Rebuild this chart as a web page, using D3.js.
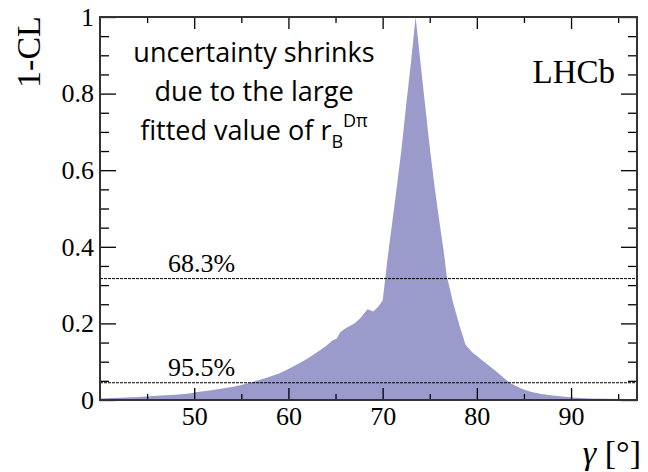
<!DOCTYPE html>
<html>
<head>
<meta charset="utf-8">
<script src="https://cdn.jsdelivr.net/npm/d3@7"></script>
<style>
  html, body { margin: 0; padding: 0; background: #fff; }
  svg { display: block; }
</style>
</head>
<body>
<svg id="chart" width="648" height="472"></svg>
<script>
// ---- data ----
const gamma = [40, 42, 44, 45, 46, 48, 49.5, 50.3, 51, 52, 53, 54, 55, 56, 57, 58, 59, 60, 61, 62, 63, 64,
  64.7, 65.1, 65.5, 66, 66.5, 67, 67.6, 68.4, 69.0, 69.5, 70.0, 70.2, 70.5, 71, 71.5, 72, 72.5, 73, 73.5,
  74, 74.5, 75, 75.5, 76, 76.5, 76.8, 77.5, 78.2, 78.8, 79.5, 80.3, 81, 82.1, 83, 83.5, 84.2, 84.9, 85.8,
  86.7, 88, 89.1, 90.5, 92, 94, 97];
const oneMinusCL = [0.004, 0.006, 0.008, 0.009, 0.011, 0.014, 0.017, 0.021, 0.023, 0.026, 0.030, 0.034, 0.039,
  0.046, 0.053, 0.061, 0.069, 0.081, 0.094, 0.108, 0.124, 0.141,
  0.156, 0.160, 0.177, 0.186, 0.193, 0.200, 0.213, 0.237, 0.231, 0.243, 0.259, 0.300, 0.365, 0.46, 0.555,
  0.655, 0.77, 0.88, 1.0,
  0.885, 0.772, 0.66, 0.56, 0.47, 0.385, 0.325, 0.252, 0.191, 0.144, 0.125, 0.109, 0.095, 0.074, 0.055,
  0.045, 0.036, 0.028, 0.021, 0.016, 0.012, 0.009, 0.006, 0.004, 0.003, 0.002];
const xMajorTicks = [50, 60, 70, 80, 90];
const xMinorTicks = [45, 55, 65, 75, 85, 95];
const yMajorTicks = [0, 0.2, 0.4, 0.6, 0.8, 1];
const yTickLabels = ["0", "0.2", "0.4", "0.6", "0.8", "1"];
const yMinorTicks = [0.05, 0.1, 0.15, 0.25, 0.3, 0.35, 0.45, 0.5, 0.55, 0.65, 0.7, 0.75, 0.85, 0.9, 0.95];
const clLevels = [0.317, 0.045];
const clLabels = ["68.3%", "95.5%"];
const xDomain = [40, 97];
const yDomain = [0, 1];

// ---- layout ----
const L = 100, R = 637, T = 17, B = 400;
const serif = "'Liberation Serif', 'Times New Roman', serif";
const sans = "'Open Sans', Lato, sans-serif";
const fillColor = "#9a9acb";

const svg = d3.select("#chart");
const x = d3.scaleLinear().domain(xDomain).range([L, R]);
const y = d3.scaleLinear().domain(yDomain).range([B, T]);

const data = gamma.map((g, i) => ({ g, v: oneMinusCL[i] }));

// filled area
svg.append("path")
  .datum(data)
  .attr("fill", fillColor)
  .attr("d", d3.area().x(d => x(d.g)).y0(y(0)).y1(d => y(d.v)));

// CL lines
clLevels.forEach((lv, i) => {
  svg.append("line")
    .attr("x1", L).attr("x2", R)
    .attr("y1", y(lv)).attr("y2", y(lv))
    .attr("stroke", "#000").attr("stroke-width", 1)
    .attr("stroke-dasharray", "3,1");
  svg.append("text")
    .attr("x", 168).attr("y", y(lv) - 7)
    .attr("font-family", serif).attr("font-size", 26)
    .attr("fill", "#000")
    .text(clLabels[i]);
});

// axes
function styleAxis(g) {
  g.select(".domain").remove();
  g.selectAll(".tick line").attr("stroke", "#000").attr("stroke-width", 1.3);
  g.selectAll(".tick text").attr("font-family", serif).attr("font-size", 26).attr("fill", "#000");
}
svg.append("g").attr("transform", `translate(0,${B})`)
  .call(d3.axisBottom(x).tickValues(xMajorTicks).tickSize(-12).tickPadding(7).tickFormat(d3.format("d")))
  .call(styleAxis);
svg.append("g").attr("transform", `translate(0,${B})`)
  .call(d3.axisBottom(x).tickValues(xMinorTicks).tickSize(-6).tickFormat(""))
  .call(styleAxis);
svg.append("g").attr("transform", `translate(0,${T})`)
  .call(d3.axisTop(x).tickValues(xMajorTicks).tickSize(-12).tickFormat(""))
  .call(styleAxis);
svg.append("g").attr("transform", `translate(0,${T})`)
  .call(d3.axisTop(x).tickValues(xMinorTicks).tickSize(-6).tickFormat(""))
  .call(styleAxis);
svg.append("g").attr("transform", `translate(${L},0)`)
  .call(d3.axisLeft(y).tickValues(yMajorTicks).tickSize(-16).tickPadding(6)
    .tickFormat((d, i) => yTickLabels[i]))
  .call(styleAxis);
svg.append("g").attr("transform", `translate(${L},0)`)
  .call(d3.axisLeft(y).tickValues(yMinorTicks).tickSize(-9).tickFormat(""))
  .call(styleAxis);
svg.append("g").attr("transform", `translate(${R},0)`)
  .call(d3.axisRight(y).tickValues(yMajorTicks).tickSize(-16).tickFormat(""))
  .call(styleAxis);
svg.append("g").attr("transform", `translate(${R},0)`)
  .call(d3.axisRight(y).tickValues(yMinorTicks).tickSize(-9).tickFormat(""))
  .call(styleAxis);

// frame
svg.append("rect")
  .attr("x", L).attr("y", T).attr("width", R - L).attr("height", B - T)
  .attr("fill", "none").attr("stroke", "#333").attr("stroke-width", 2);

// axis titles
svg.append("text")
  .attr("transform", `translate(40,52) rotate(-90)`)
  .attr("text-anchor", "middle")
  .attr("font-family", serif).attr("font-size", 34).attr("fill", "#000")
  .text("1-CL");

const xt = svg.append("text")
  .attr("x", 641).attr("y", 464)
  .attr("text-anchor", "end")
  .attr("font-family", serif).attr("font-size", 34).attr("fill", "#000");
xt.append("tspan").attr("font-style", "italic").text("γ");
xt.append("tspan").text(" [°]");

// LHCb
svg.append("text")
  .attr("x", 615).attr("y", 83)
  .attr("text-anchor", "end")
  .attr("font-family", serif).attr("font-size", 33).attr("fill", "#000")
  .text("LHCb");

// annotation
const cx = 254;
svg.append("text").attr("x", cx).attr("y", 62).attr("text-anchor", "middle")
  .attr("font-family", sans).attr("font-size", 27).attr("fill", "#000")
  .text("uncertainty shrinks");
svg.append("text").attr("x", cx).attr("y", 101).attr("text-anchor", "middle")
  .attr("font-family", sans).attr("font-size", 27).attr("fill", "#000")
  .text("due to the large");
const t3 = svg.append("text").attr("x", cx).attr("y", 140).attr("text-anchor", "middle")
  .attr("font-family", sans).attr("font-size", 27).attr("fill", "#000");
t3.append("tspan").text("fitted value of r");
t3.append("tspan").attr("font-size", 18).attr("dy", 8).text("B");
t3.append("tspan").attr("font-size", 18).attr("dy", -21).text("Dπ");
</script>
</body>
</html>
